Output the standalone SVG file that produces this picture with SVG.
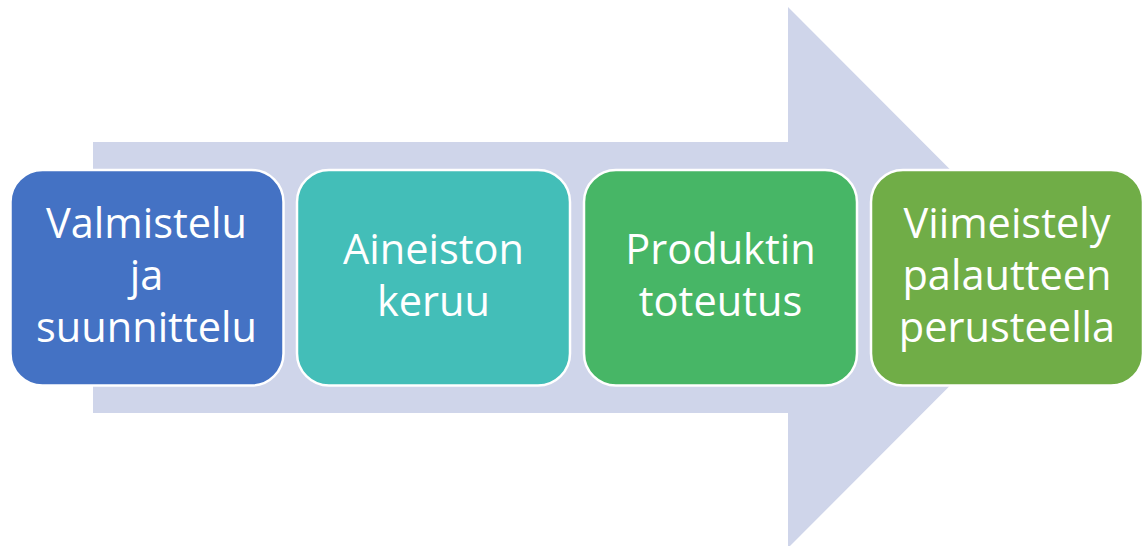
<svg xmlns="http://www.w3.org/2000/svg" width="1147" height="546" viewBox="0 0 1147 546">
<style>
.box{stroke:#ffffff;stroke-width:2.5}
.t{font-family:"Open Sans","Liberation Sans",sans-serif;font-size:41.5px;fill:#ffffff;text-anchor:middle}
</style>
<rect width="1147" height="546" fill="#ffffff"/>
<g id="arrow">
<polygon points="93,142 788,142 788,7 1058,277.5 788,548 788,413 93,413" fill="#CFD5EA"/>
</g>
<g id="node1">
<rect class="box" x="10.5" y="170" width="273" height="215.5" rx="32" fill="#4472C4"/>
<text class="t" x="146.5" y="238">Valmistelu</text>
<text class="t" x="146.5" y="290">ja</text>
<text class="t" x="146.5" y="342">suunnittelu</text>
</g>
<g id="node2">
<rect class="box" x="297" y="170" width="273" height="215.5" rx="32" fill="#43BEB8"/>
<text class="t" x="433.5" y="264">Aineiston</text>
<text class="t" x="433.5" y="316">keruu</text>
</g>
<g id="node3">
<rect class="box" x="584" y="170" width="273" height="215.5" rx="32" fill="#47B666"/>
<text class="t" x="720.5" y="264">Produktin</text>
<text class="t" x="720.5" y="316">toteutus</text>
</g>
<g id="node4">
<rect class="box" x="871" y="170" width="272" height="215.5" rx="32" fill="#70AD47"/>
<text class="t" x="1007" y="238">Viimeistely</text>
<text class="t" x="1007" y="290">palautteen</text>
<text class="t" x="1007" y="342">perusteella</text>
</g>
<g id="connectors"></g>
</svg>
